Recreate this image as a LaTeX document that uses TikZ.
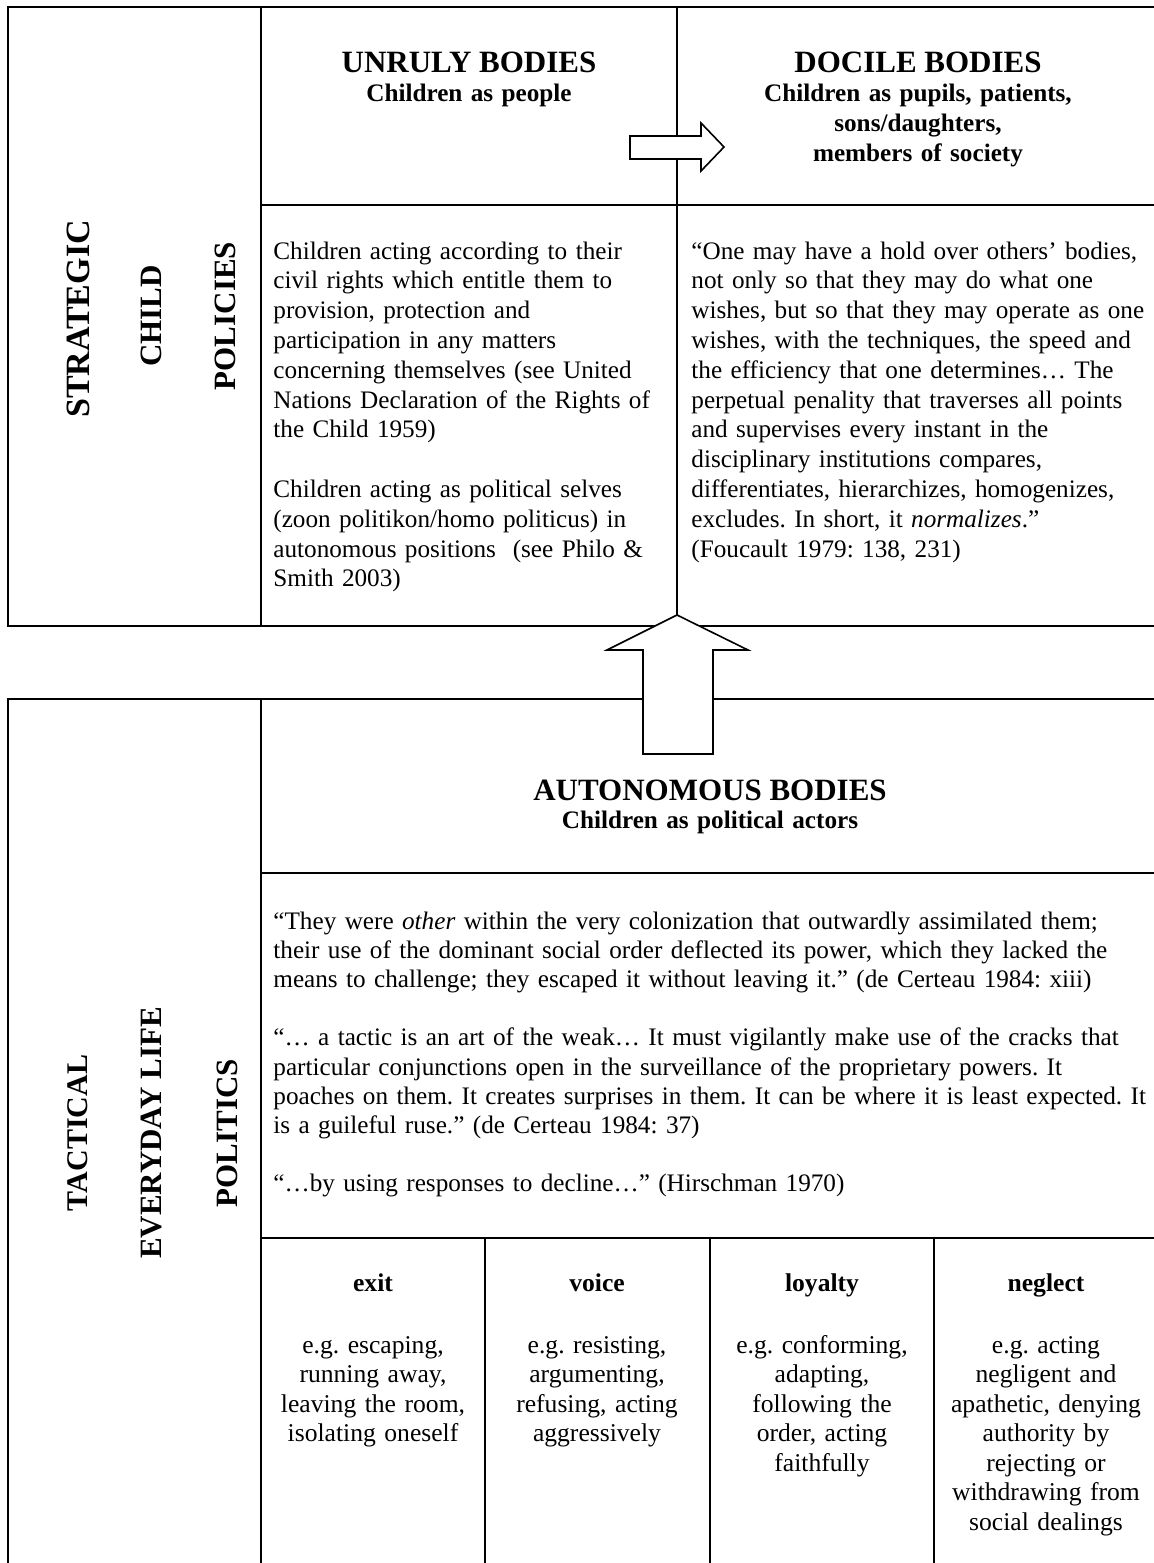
\documentclass[tikz,border=0pt]{standalone}
\usepackage{fontspec}
\setmainfont{Liberation Serif}
\frenchspacing
\tikzset{>=latex}
\tikzset{
  rule/.style={line width=1pt},
  blockarrow/.style={draw, fill=white, line width=0.8pt, line join=miter},
  sidetext/.style={rotate=90, inner sep=0pt, font=\bfseries\fontsize{15.5}{18}\selectfont},
  celltitle/.style={anchor=base, inner sep=0pt, font=\bfseries\fontsize{15.5}{18}\selectfont},
  cellsub/.style={anchor=base, inner sep=0pt, align=center, text width=160pt,
    font=\bfseries\fontsize{12.6}{15}\selectfont},
  celltext/.style={anchor=base west, inner sep=0pt, align=left, font=\fontsize{12.6}{14.9}\selectfont},
  colhead/.style={anchor=base, inner sep=0pt, font=\bfseries\fontsize{12.8}{15}\selectfont},
  coltext/.style={anchor=base, inner sep=0pt, align=center, text width=108pt,
    font=\fontsize{12.8}{14.75}\selectfont},
}

\begin{document}
\begin{tikzpicture}[x=0.5pt, y=-0.5pt]
  \useasboundingbox (0,0) rectangle (1154,1563);
  % strategic table
  \draw[rule] (1154,7) -- (8,7) -- (8,626) -- (1154,626);
  \draw[rule] (261,7) -- (261,626);
  \draw[rule] (677,7) -- (677,626);
  \draw[rule] (261,205) -- (1154,205);
  % tactical table
  \draw[rule] (1154,699) -- (8,699) -- (8,1563);
  \draw[rule] (261,699) -- (261,1563);
  \draw[rule] (261,873) -- (1154,873);
  \draw[rule] (261,1238) -- (1154,1238);
  \foreach \x in {485,710,934}
    \draw[rule] (\x,1238) -- (\x,1563);
  % block arrows
  \draw[blockarrow] (630,136) -- (701,136) -- (701,123) -- (724,147) -- (701,171)
    -- (701,159) -- (630,159) -- cycle;
  \draw[blockarrow] (643,754) -- (643,650) -- (607,650) -- (677,615) -- (748,650)
    -- (713,650) -- (713,754) -- cycle;

  \node[sidetext, font=\bfseries\fontsize{17}{20}\selectfont] (strategic) at (78,319) {STRATEGIC};
  \node[sidetext] (child) at (151,316) {CHILD};
  \node[sidetext] (policies) at (225,316) {POLICIES};
  \node[sidetext, font=\bfseries\fontsize{15}{18}\selectfont] (tactical) at (78,1133) {TACTICAL};
  \node[sidetext] (everyday) at (152,1133) {EVERYDAY LIFE};
  \node[sidetext] (politics) at (227,1133) {POLITICS};

  \node[celltitle] (unruly) at (469,72) {UNRULY BODIES};
  \node[cellsub] (unrulySub) at (469,101) {Children as people};
  \node[celltitle] (docile) at (918,72) {DOCILE BODIES};
  \node[cellsub] (docileSub) at (918,101)
    {Children as pupils, patients,\\ sons/daughters,\\ members of society};

  \node[celltext, text width=205pt] (rights) at (273,259)
    {Children acting according to their\\
     civil rights which entitle them to\\
     provision, protection and\\
     participation in any matters\\
     concerning themselves (see United\\
     Nations Declaration of the Rights of\\
     the Child 1959)\\[14.9pt]
     Children acting as political selves\\
     (zoon politikon/homo politicus) in\\
     autonomous positions~ (see Philo \&\\
     Smith 2003)};
  \node[celltext, text width=235pt] (foucault) at (691,259)
    {“One may have a hold over others’ bodies,\\
     not only so that they may do what one\\
     wishes, but so that they may operate as one\\
     wishes, with the techniques, the speed and\\
     the efficiency that one determines… The\\
     perpetual penality that traverses all points\\
     and supervises every instant in the\\
     disciplinary institutions compares,\\
     differentiates, hierarchizes, homogenizes,\\
     excludes. In short, it \textit{normalizes}.”\\
     (Foucault 1979: 138, 231)};

  \node[celltitle] (autonomous) at (710,800) {AUTONOMOUS BODIES};
  \node[cellsub, text width=250pt] (autonomousSub) at (710,828) {Children as political actors};

  \node[celltext, text width=470pt, font=\fontsize{12.6}{14.6}\selectfont] (certeau) at (273,929)
    {“They were \textit{other} within the very colonization that outwardly assimilated them;\\
     their use of the dominant social order deflected its power, which they lacked the\\
     means to challenge; they escaped it without leaving it.” (de Certeau 1984: xiii)\\[14.6pt]
     “… a tactic is an art of the weak… It must vigilantly make use of the cracks that\\
     particular conjunctions open in the surveillance of the proprietary powers. It\\
     poaches on them. It creates surprises in them. It can be where it is least expected. It\\
     is a guileful ruse.” (de Certeau 1984: 37)\\[14.6pt]
     “…by using responses to decline…” (Hirschman 1970)};

  \node[colhead] (exit) at (373,1291) {exit};
  \node[colhead] (voice) at (597,1291) {voice};
  \node[colhead] (loyalty) at (822,1291) {loyalty};
  \node[colhead] (neglect) at (1046,1291) {neglect};
  \node[coltext] (exitText) at (373,1353)
    {e.g. escaping,\\ running away,\\ leaving the room,\\ isolating oneself};
  \node[coltext] (voiceText) at (597,1353)
    {e.g. resisting,\\ argumenting,\\ refusing, acting\\ aggressively};
  \node[coltext] (loyaltyText) at (822,1353)
    {e.g. conforming,\\ adapting,\\ following the\\ order, acting\\ faithfully};
  \node[coltext] (neglectText) at (1046,1353)
    {e.g. acting\\ negligent and\\ apathetic, denying\\ authority by\\ rejecting or\\ withdrawing from\\ social dealings};
\end{tikzpicture}
\end{document}
